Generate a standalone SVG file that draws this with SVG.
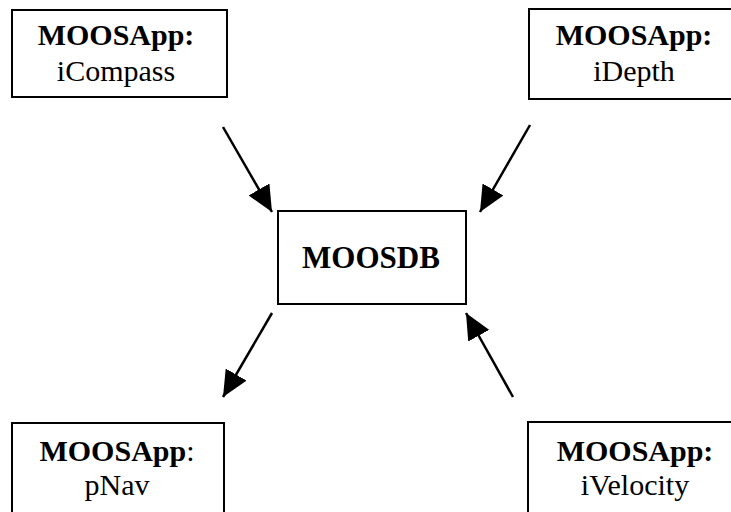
<svg xmlns="http://www.w3.org/2000/svg" width="731" height="512" viewBox="0 0 731 512">
<style>
.box{fill:#fff;stroke:#000;stroke-width:2}
.t{font-family:"Liberation Serif","Times New Roman",serif;font-size:30px;fill:#000;text-anchor:middle}
.b{font-weight:bold}
.c{stroke:#000;stroke-width:2.5;fill:none}
</style>
<defs>
<marker id="ah" markerUnits="userSpaceOnUse" markerWidth="26" markerHeight="24" refX="26" refY="12" orient="auto" viewBox="0 0 26 24">
<path d="M0,0 L26,12 L0,24 z" fill="#000"/>
</marker>
</defs>
<rect width="731" height="512" fill="#fff"/>
<g id="connectors">
<line class="c" x1="223" y1="127" x2="272" y2="212" marker-end="url(#ah)"/>
<line class="c" x1="530" y1="125" x2="480" y2="212" marker-end="url(#ah)"/>
<line class="c" x1="272" y1="313" x2="223" y2="397" marker-end="url(#ah)"/>
<line class="c" x1="513" y1="397" x2="466" y2="313" marker-end="url(#ah)"/>
</g>
<g id="iCompass">
<rect class="box" x="12" y="10" width="215" height="87"/>
<text class="t b" x="116" y="45">MOOSApp:</text>
<text class="t" x="116" y="81">iCompass</text>
</g>
<g id="iDepth">
<rect class="box" x="529" y="9" width="214" height="90"/>
<text class="t b" x="634" y="45">MOOSApp:</text>
<text class="t" x="634" y="81">iDepth</text>
</g>
<g id="MOOSDB">
<rect class="box" x="278" y="211" width="188" height="93"/>
<text class="t b" x="371" y="268" style="font-size:31px">MOOSDB</text>
</g>
<g id="pNav">
<rect class="box" x="12" y="423" width="212" height="100"/>
<text class="t" x="117" y="461"><tspan class="b">MOOSApp</tspan>:</text>
<text class="t" x="117" y="495">pNav</text>
</g>
<g id="iVelocity">
<rect class="box" x="528" y="422" width="214" height="100"/>
<text class="t b" x="635" y="461">MOOSApp:</text>
<text class="t" x="635" y="495">iVelocity</text>
</g>
</svg>
